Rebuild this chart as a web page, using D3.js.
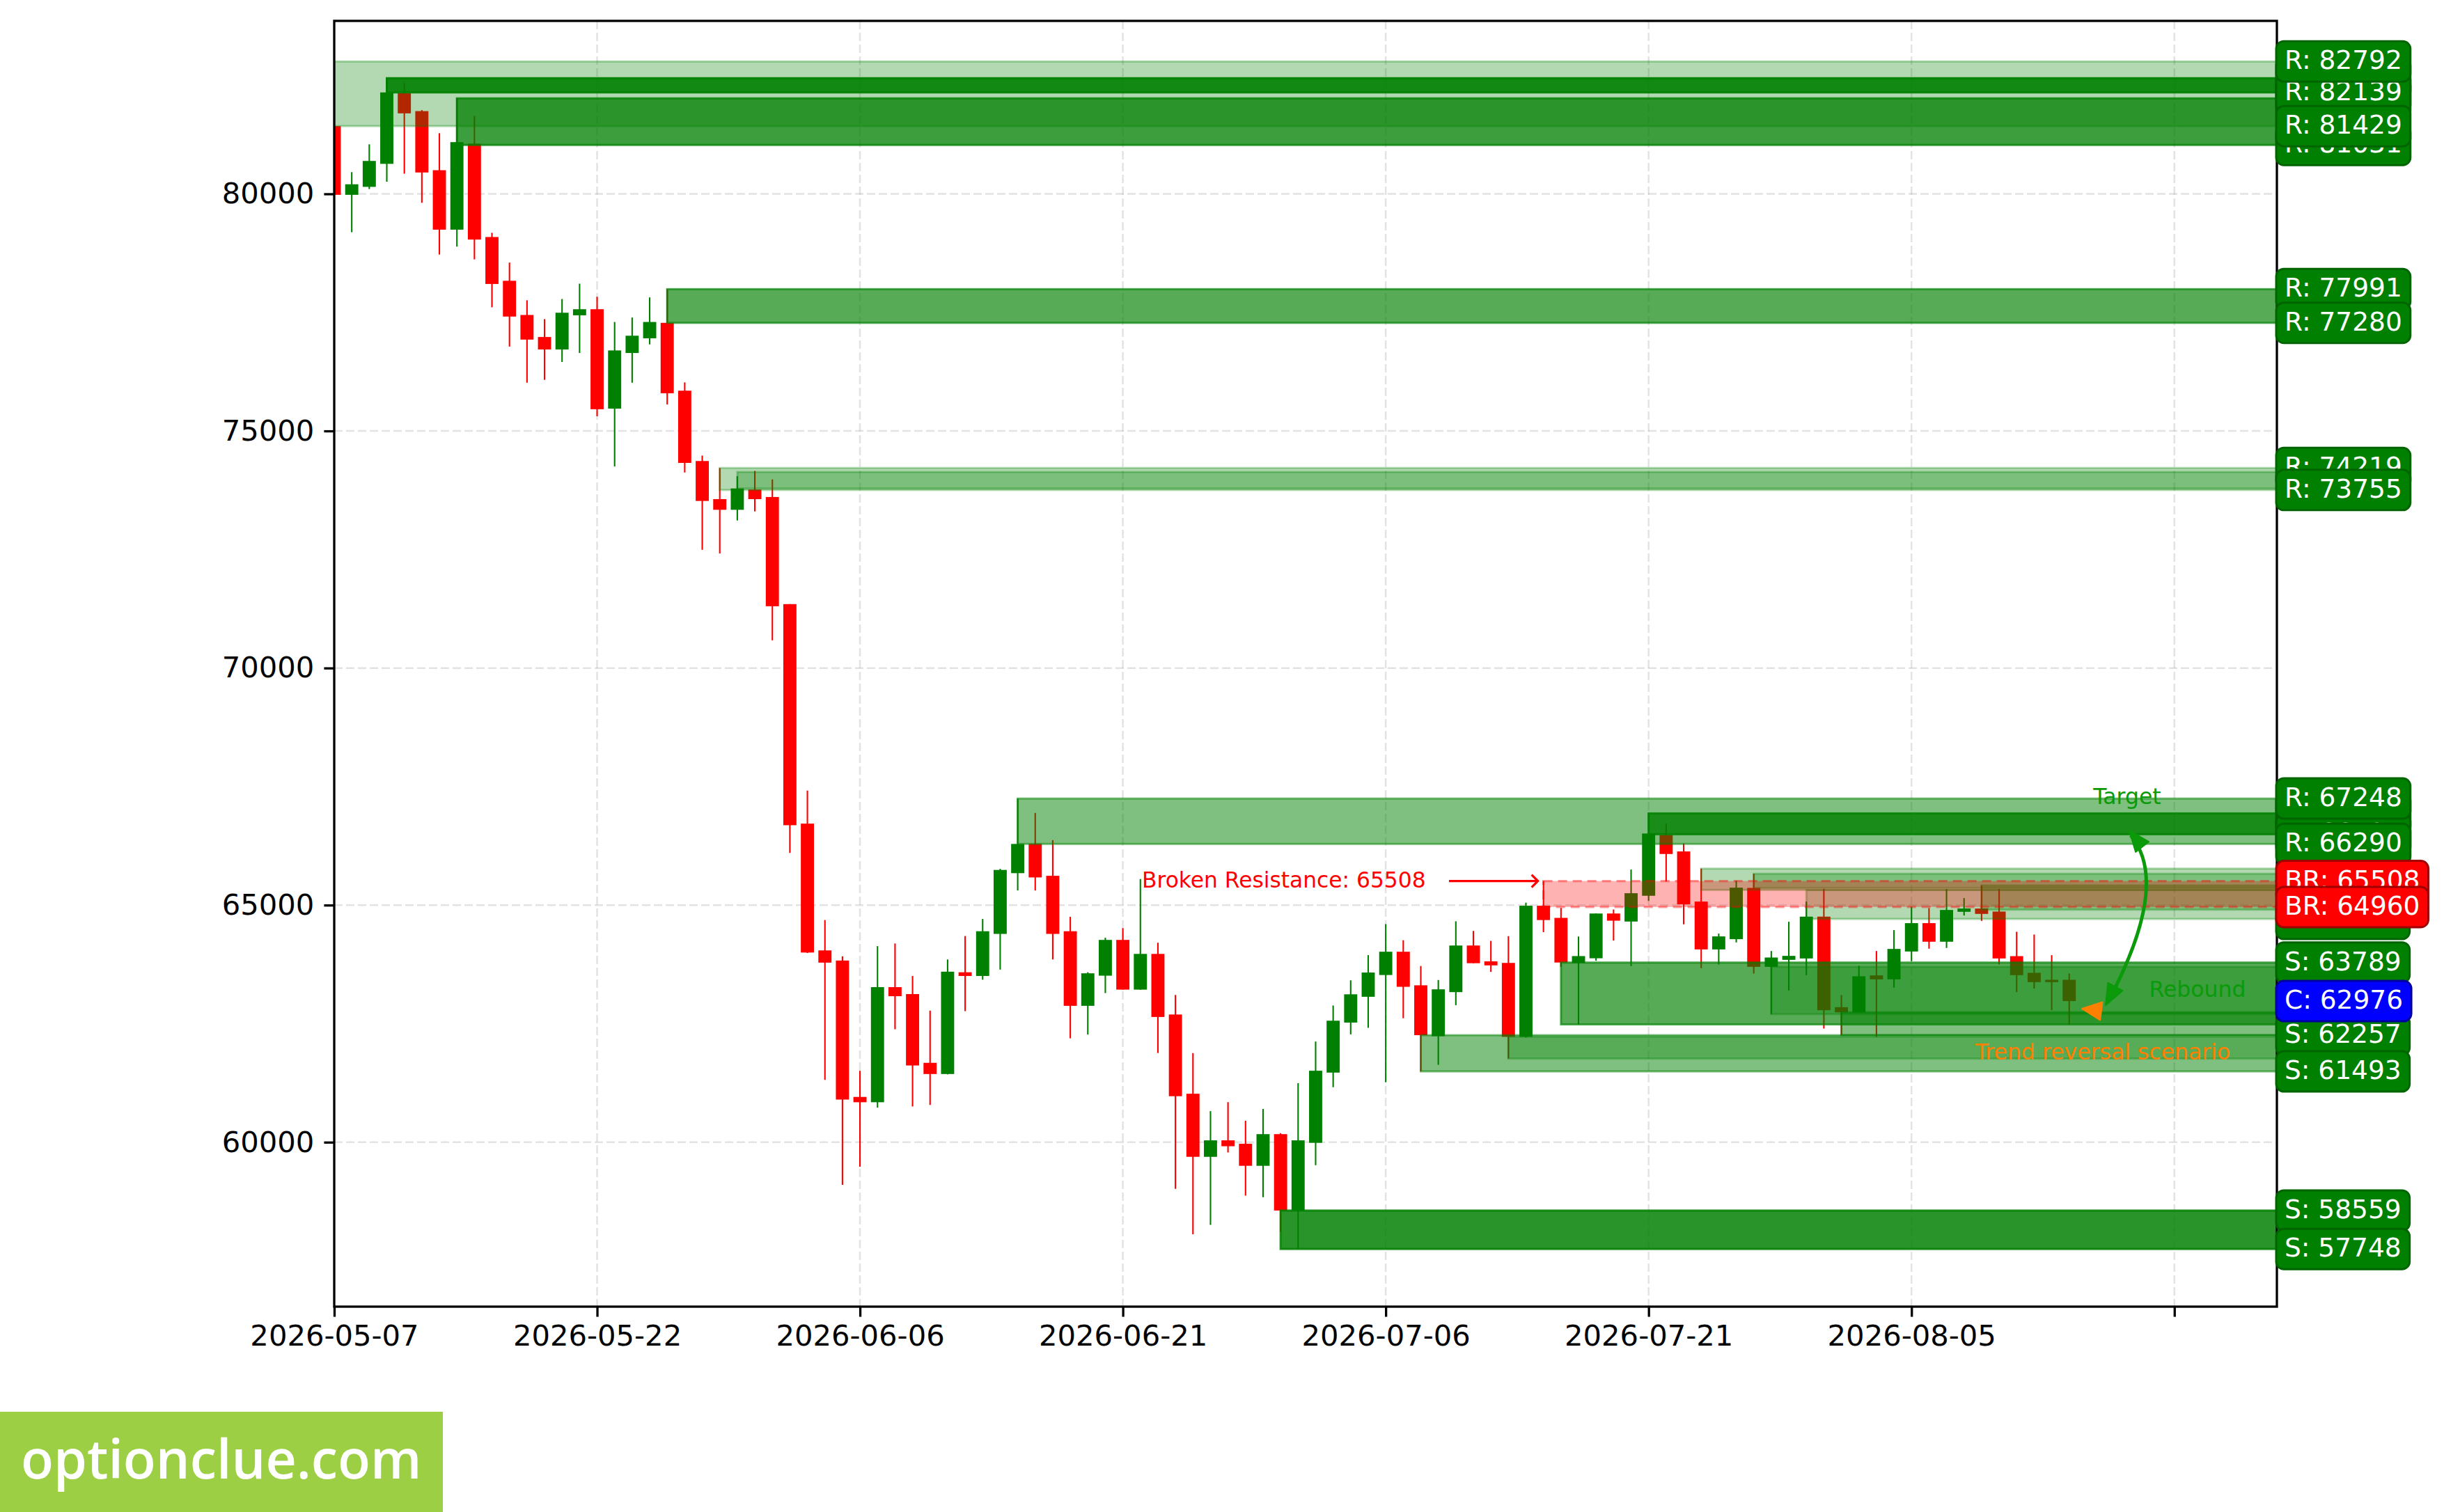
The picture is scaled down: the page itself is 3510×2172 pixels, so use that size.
<!DOCTYPE html>
<html>
<head>
<meta charset="utf-8">
<script src="https://cdn.jsdelivr.net/npm/d3@7"></script>
<style>
  html, body { margin: 0; padding: 0; background: #fff; }
  svg { display: block; }
  text { font-family: "DejaVu Sans", sans-serif; }
</style>
</head>
<body>
<svg id="chart" width="3510" height="2172"></svg>
<script>
// ---------------- DATA ----------------
const opens  = [81429,79980,80148,80633,82123,81745,80499,79245,81058,79090,
                78167,77446,76981,76718,77439,77567,75471,76644,76954,77280,
                75849,74366,73562,73337,73764,73607,71348,66719,64045,63831,
                60955,60843,63270,63124,61674,61438,63584,63506,64393,65674,
                66292,65618,64449,62876,63512,64266,63218,63971,62693,61022,
                59692,60039,59967,59502,60170,58559,59987,61468,62523,63067,
                63526,64017,63309,62235,63165,64148,63814,63781,62222,64987,
                64731,63781,63879,64823,64654,65197,66480,66132,65075,64066,
                64282,65363,63699,63846,63875,64757,62847,62740,63518,63435,
                64022,64620,64228,64859,64928,64864,63924,63572,63425,63425];
const highs  = [82792,80458,81045,82440,82338,81766,81280,82015,81644,79178,
                78551,77756,77358,77783,78106,77830,77298,77392,77817,77991,
                76024,74481,74219,74045,74157,73978,71350,67416,64685,63921,
                61506,64135,64191,63506,62775,63854,64348,64708,65764,67248,
                66944,66371,64753,63584,64312,64515,65550,64207,63106,61881,
                60655,60845,60452,60701,60190,61245,62123,62883,63414,63945,
                64600,64260,63716,63421,64659,64456,64246,64345,65052,65508,
                64941,64338,64823,64908,65750,66935,66715,66298,65770,64399,
                65515,65662,64032,64649,65075,65344,63102,63719,64032,64473,
                64967,64938,65339,65148,65417,65344,64438,64380,63944,63557];
const lows   = [79900,79191,80101,80256,80425,79811,78720,78888,78618,77608,
                76779,76017,76078,76455,76644,75310,74252,76017,76826,75559,
                74124,72493,72416,73112,73303,70584,66101,63990,61315,59101,
                59483,60730,62382,60753,60786,61430,62764,63427,63640,65309,
                65309,63854,62191,62270,63145,63218,63215,61881,59017,58060,
                58257,59784,58873,58840,58106,57748,59515,61160,62274,62412,
                61265,62615,61493,61632,62890,63775,63591,61763,62208,64430,
                63696,62484,63827,64253,63714,65089,65500,64595,63670,63748,
                64213,63557,62701,63200,63523,62397,62257,62740,62221,63259,
                63817,64081,64096,64781,64668,63748,63166,63239,62784,62480];
const closes = [79980,80202,80694,82139,81698,80451,79245,81091,79036,78100,
                77412,76927,76718,77493,77567,75458,76698,77008,77298,75795,
                74326,73524,73337,73787,73562,71303,66685,64000,63787,60899,
                60843,63270,63079,61618,61438,63596,63506,64449,65742,66290,
                65584,64393,62876,63562,64266,63218,63971,62641,60970,59692,
                60039,59915,59502,60170,58559,60039,61507,62562,63119,63578,
                64017,63277,62257,63224,64148,63775,63729,62222,64987,64685,
                63789,63925,64823,64672,65251,66510,66078,65016,64066,64340,
                65368,63699,63895,63929,64757,62784,62740,63499,63435,64076,
                64620,64228,64898,64928,64815,63875,63523,63376,63376,62976];

// tick positions (candle index) and their labels
const xTickIndex  = [0, 15, 30, 45, 60, 75, 90, 105];
const xTickLabels = ["2026-05-07","2026-05-22","2026-06-06","2026-06-21",
                     "2026-07-06","2026-07-21","2026-08-05",""];
const yTickValues = [60000, 65000, 70000, 75000, 80000];

// green zones: start index, low price, high price, opacity
const zoneStart = [0,     3,     7,     19,    22,    23,    39,    75,    78,    81,    84,    94,    54,    62,    67,    70,    82,    86];
const zoneLow   = [81429, 82139, 81031, 77280, 73755, 73787, 66290, 66494, 65320, 65363, 64708, 64903, 57748, 61493, 61763, 62484, 62701, 62257];
const zoneHigh  = [82792, 82440, 82015, 77991, 74219, 74135, 67248, 66935, 65770, 65662, 65319, 65417, 58559, 62257, 62222, 63789, 63699, 62740];
const zoneAlpha = [0.30,  0.90,  0.76,  0.66,  0.30,  0.30,  0.50,  0.80,  0.30,  0.30,  0.30,  0.30,  0.84,  0.50,  0.30,  0.66,  0.30,  0.50];

// broken resistance zone
const brokenStart = 69;
const brokenLow = 64960;
const brokenHigh = 65508;

// right-hand price labels in drawing order (later ones on top)
const labelText  = ["R: 82015","R: 81031","R: 82440","R: 82139","R: 82792","R: 81429",
                    "R: 77991","R: 77280","R: 74219","R: 73755",
                    "R: 66935","R: 66494","R: 67248","R: 66290",
                    "S: 64708","BR: 65508","BR: 64960",
                    "S: 63789","S: 62257","S: 61493","C: 62976",
                    "S: 58559","S: 57748"];
const labelPrice = [82015,81031,82440,82139,82792,81429,
                    77991,77280,74219,73755,
                    66935,66494,67248,66290,
                    64708,65508,64960,
                    63789,62257,61493,62976,
                    58559,57748];
const labelKind  = ["g","g","g","g","g","g","g","g","g","g","g","g","g","g",
                    "g","r","r","g","g","g","b","g","g"];

// ---------------- CHART ----------------
const W = 3510, H = 2172;
const M = {left: 480, right: 3270, top: 30, bottom: 1877};
const svg = d3.select("#chart");
svg.append("rect").attr("width", W).attr("height", H).attr("fill", "#fff");

const x = d3.scaleLinear().domain([0, 110.85]).range([M.left, M.right]);
const y = d3.scaleLinear().domain([56532, 83648]).range([M.bottom, M.top]);

const defs = svg.append("defs");
defs.append("clipPath").attr("id", "plotclip")
  .append("rect").attr("x", M.left).attr("y", M.top)
  .attr("width", M.right - M.left).attr("height", M.bottom - M.top);

// grid
const grid = svg.append("g").attr("clip-path", "url(#plotclip)");
grid.selectAll("line.vg").data(xTickIndex).join("line")
  .attr("x1", d => x(d)).attr("x2", d => x(d))
  .attr("y1", M.top).attr("y2", M.bottom)
  .attr("stroke", "#b0b0b0").attr("stroke-opacity", 0.35)
  .attr("stroke-width", 2.5).attr("stroke-dasharray", "12,5");
grid.selectAll("line.hg").data(yTickValues).join("line")
  .attr("x1", M.left).attr("x2", M.right)
  .attr("y1", d => y(d)).attr("y2", d => y(d))
  .attr("stroke", "#b0b0b0").attr("stroke-opacity", 0.35)
  .attr("stroke-width", 2.5).attr("stroke-dasharray", "12,5");

// candles
const idx = d3.range(opens.length);
const bodyW = (x(1) - x(0)) * 0.75;
const candles = svg.append("g").attr("clip-path", "url(#plotclip)");
const col = i => closes[i] >= opens[i] ? "#008000" : "#ff0000";
candles.selectAll("line.wick").data(idx).join("line")
  .attr("x1", i => x(i)).attr("x2", i => x(i))
  .attr("y1", i => y(highs[i])).attr("y2", i => y(lows[i]))
  .attr("stroke", col).attr("stroke-width", 2.1);
candles.selectAll("rect.body").data(idx).join("rect")
  .attr("x", i => x(i) - bodyW / 2).attr("width", bodyW)
  .attr("y", i => y(Math.max(opens[i], closes[i])))
  .attr("height", i => Math.max(2, Math.abs(y(opens[i]) - y(closes[i]))))
  .attr("fill", col);

// zones
const zones = svg.append("g").attr("clip-path", "url(#plotclip)");
const zi = d3.range(zoneStart.length);
zones.selectAll("rect.zone").data(zi).join("rect")
  .attr("x", i => x(zoneStart[i]))
  .attr("width", i => x(110.85) - x(zoneStart[i]) + 4)
  .attr("y", i => y(zoneHigh[i]))
  .attr("height", i => y(zoneLow[i]) - y(zoneHigh[i]))
  .attr("fill", "#008000").attr("fill-opacity", i => zoneAlpha[i])
  .attr("stroke", "#008000").attr("stroke-opacity", i => zoneAlpha[i])
  .attr("stroke-width", 3);

// broken resistance zone
zones.append("rect")
  .attr("x", x(brokenStart)).attr("width", x(110.85) - x(brokenStart) + 4)
  .attr("y", y(brokenHigh)).attr("height", y(brokenLow) - y(brokenHigh))
  .attr("fill", "#ff0000").attr("fill-opacity", 0.3)
  .attr("stroke", "#ff0000").attr("stroke-opacity", 0.4)
  .attr("stroke-width", 3.3).attr("stroke-dasharray", "13,8");

// spines
svg.append("rect").attr("x", M.left).attr("y", M.top)
  .attr("width", M.right - M.left).attr("height", M.bottom - M.top)
  .attr("fill", "none").attr("stroke", "#000").attr("stroke-width", 3.3);

// axes
const yAxis = d3.axisLeft(y).tickValues(yTickValues).tickFormat(d3.format("d"))
  .tickSize(14.6).tickPadding(14);
const gy = svg.append("g").attr("transform", `translate(${M.left},0)`).call(yAxis);
const xAxis = d3.axisBottom(x).tickValues(xTickIndex)
  .tickFormat((d, i) => xTickLabels[i]).tickSize(14.6).tickPadding(12);
const gx = svg.append("g").attr("transform", `translate(0,${M.bottom})`).call(xAxis);
[gx, gy].forEach(g => {
  g.select(".domain").remove();
  g.selectAll(".tick line").attr("stroke", "#000").attr("stroke-width", 3.3);
  g.selectAll(".tick text").attr("fill", "#000")
    .style("font-family", "DejaVu Sans").style("font-size", "41.7px");
});

// annotations
const ann = svg.append("g");
ann.append("text").attr("x", 1640).attr("y", 1275)
  .attr("fill", "#ff0000").style("font-size", "31.3px")
  .text("Broken Resistance: " + brokenHigh);
ann.append("line").attr("x1", 2081).attr("x2", x(brokenStart) - 8)
  .attr("y1", y(brokenHigh)).attr("y2", y(brokenHigh))
  .attr("stroke", "#ff0000").attr("stroke-width", 3.2);
ann.append("path")
  .attr("d", `M${x(brokenStart) - 17},${y(brokenHigh) - 9} L${x(brokenStart) - 8},${y(brokenHigh)} L${x(brokenStart) - 17},${y(brokenHigh) + 9}`)
  .attr("fill", "none").attr("stroke", "#ff0000").attr("stroke-width", 3.2);

// curved double arrow (rebound -> target)
const gCol = "#0a9a0a";
const P0 = [3030, 1434], P1 = [3060, 1200], C1 = [3117, 1268];
ann.append("path")
  .attr("d", `M${P0[0]},${P0[1]} Q${C1[0]},${C1[1]} ${P1[0]},${P1[1]}`)
  .attr("fill", "none").attr("stroke", gCol).attr("stroke-width", 5);
function head(tip, from, len, wid, color) {
  const dx = tip[0] - from[0], dy = tip[1] - from[1];
  const L = Math.hypot(dx, dy), ux = dx / L, uy = dy / L;
  const bx = tip[0] - ux * len, by = tip[1] - uy * len;
  const px = -uy * wid / 2, py = ux * wid / 2;
  ann.append("path")
    .attr("d", `M${tip[0]},${tip[1]} L${bx + px},${by + py} L${bx - px},${by - py} Z`)
    .attr("fill", color).attr("stroke", color).attr("stroke-width", 2)
    .attr("stroke-linejoin", "round");
}
head([3058, 1193], C1, 30, 24, gCol);
head([3024, 1444], C1, 30, 24, gCol);
head([2990, 1449], [3030, 1454], 28, 26, "#ff8000");

ann.append("text").attr("x", 3055).attr("y", 1155).attr("text-anchor", "middle")
  .attr("fill", gCol).style("font-size", "31.5px").text("Target");
ann.append("text").attr("x", 3156).attr("y", 1432).attr("text-anchor", "middle")
  .attr("fill", gCol).style("font-size", "31.5px").text("Rebound");
ann.append("text").attr("x", 3020).attr("y", 1522).attr("text-anchor", "middle")
  .attr("fill", "#ff8000").style("font-size", "31.5px").text("Trend reversal scenario");

// right-hand labels
const kindFill = {g: "#008000", r: "#ff0000", b: "#0000ff"};
const kindEdge = {g: "#006400", r: "#a00000", b: "#0000a0"};
const lab = svg.append("g");
labelText.forEach((t, i) => {
  const g = lab.append("g");
  const cy = y(labelPrice[i]);
  const txt = g.append("text").attr("x", 3281).attr("y", cy - 2)
    .attr("dominant-baseline", "central")
    .attr("fill", "#fff").style("font-size", "37.5px").text(t);
  const w = txt.node().getComputedTextLength();
  g.insert("rect", "text").attr("x", 3269).attr("y", cy - 29)
    .attr("width", w + 24).attr("height", 58).attr("rx", 11).attr("ry", 11)
    .attr("fill", kindFill[labelKind[i]]).attr("stroke", kindEdge[labelKind[i]])
    .attr("stroke-width", 3);
});

// watermark
svg.append("rect").attr("x", 0).attr("y", 2028).attr("width", 636).attr("height", 144)
  .attr("fill", "#9ccf44");
svg.append("text").attr("x", 30).attr("y", 2124).attr("fill", "#fff")
  .style("font-family", "Open Sans, sans-serif").style("font-size", "77px")
  .style("font-weight", "600")
  .text("optionclue.com");
</script>
</body>
</html>
